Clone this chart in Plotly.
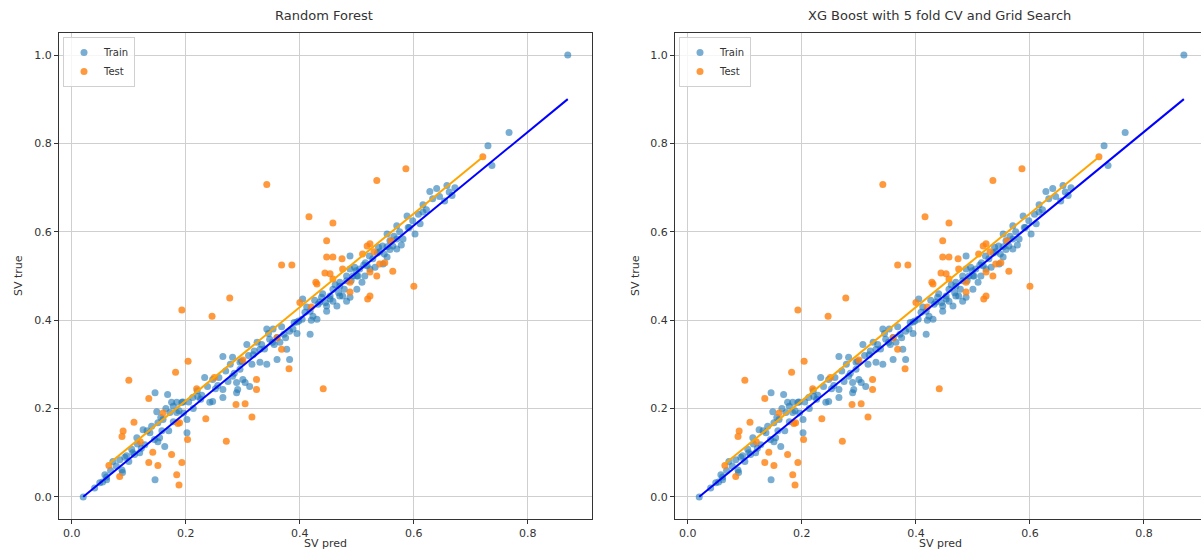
import plotly.graph_objects as go

# ---------------- data ----------------
train_pred = [0.020, 0.049, 0.054, 0.061, 0.061, 0.072, 0.084, 0.088, 0.089, 0.096,
              0.107, 0.119, 0.114, 0.125, 0.137, 0.151, 0.151, 0.154, 0.163, 0.146,
              0.160, 0.149, 0.172, 0.184, 0.175, 0.184, 0.193, 0.146, 0.168, 0.202,
              0.202, 0.233, 0.247, 0.265, 0.247, 0.265, 0.242, 0.274, 0.289, 0.300,
              0.312, 0.289, 0.291, 0.304, 0.265, 0.282, 0.298, 0.295, 0.282, 0.307,
              0.316, 0.330, 0.330, 0.333, 0.342, 0.353, 0.347, 0.360, 0.365, 0.377,
              0.382, 0.360, 0.342, 0.382, 0.388, 0.404, 0.423, 0.409, 0.418, 0.418,
              0.405, 0.430, 0.435, 0.447, 0.447, 0.458, 0.453, 0.465, 0.470, 0.475,
              0.482, 0.488, 0.470, 0.482, 0.493, 0.500, 0.509, 0.514, 0.505, 0.458,
              0.453, 0.470, 0.482, 0.500, 0.488, 0.488, 0.518, 0.523, 0.528, 0.540,
              0.546, 0.553, 0.553, 0.563, 0.570, 0.558, 0.570, 0.581, 0.553, 0.575,
              0.570, 0.588, 0.602, 0.611, 0.616, 0.616, 0.633, 0.640, 0.628, 0.654,
              0.658, 0.667, 0.730, 0.767, 0.737, 0.870,
              0.128, 0.178, 0.213, 0.221, 0.256, 0.318, 0.372, 0.398, 0.432, 0.512,
              0.536, 0.592, 0.545, 0.499, 0.438, 0.395, 0.352, 0.226, 0.196, 0.110,
              0.040, 0.058, 0.068, 0.078, 0.093, 0.100, 0.105, 0.115, 0.122,
              0.132, 0.140, 0.145, 0.156, 0.165, 0.178, 0.188, 0.195, 0.170, 0.158,
              0.205, 0.212, 0.220, 0.228, 0.238, 0.252, 0.258, 0.270, 0.278, 0.285, 0.295,
              0.310, 0.320, 0.325, 0.338, 0.345, 0.355, 0.368, 0.375, 0.390, 0.395,
              0.412, 0.420, 0.426, 0.440, 0.445, 0.462, 0.468, 0.478, 0.490, 0.496,
              0.502, 0.515, 0.522, 0.532, 0.538, 0.548, 0.558, 0.565, 0.578, 0.590, 0.598,
              0.608, 0.622, 0.645, 0.662, 0.672]
train_true = [0.000, 0.032, 0.034, 0.039, 0.045, 0.080, 0.084, 0.061, 0.055, 0.093,
              0.100, 0.100, 0.134, 0.152, 0.145, 0.168, 0.125, 0.134, 0.114, 0.039,
              0.175, 0.193, 0.191, 0.191, 0.214, 0.214, 0.214, 0.236, 0.232, 0.175,
              0.145, 0.270, 0.266, 0.243, 0.216, 0.225, 0.214, 0.261, 0.259, 0.266,
              0.250, 0.236, 0.243, 0.259, 0.318, 0.316, 0.307, 0.289, 0.273, 0.345,
              0.300, 0.305, 0.334, 0.345, 0.380, 0.380, 0.357, 0.361, 0.350, 0.334,
              0.311, 0.311, 0.300, 0.375, 0.380, 0.402, 0.409, 0.418, 0.368, 0.420,
              0.448, 0.402, 0.441, 0.432, 0.420, 0.443, 0.448, 0.432, 0.455, 0.455,
              0.443, 0.452, 0.477, 0.489, 0.500, 0.470, 0.486, 0.500, 0.516, 0.470,
              0.455, 0.486, 0.500, 0.500, 0.516, 0.545, 0.523, 0.516, 0.539, 0.555,
              0.527, 0.543, 0.566, 0.568, 0.561, 0.580, 0.584, 0.584, 0.595, 0.600,
              0.614, 0.636, 0.595, 0.618, 0.645, 0.661, 0.675, 0.698, 0.691, 0.670,
              0.705, 0.682, 0.795, 0.825, 0.750, 1.000,
              0.118, 0.170, 0.200, 0.227, 0.252, 0.322, 0.368, 0.398, 0.436, 0.525,
              0.552, 0.610, 0.568, 0.512, 0.452, 0.396, 0.350, 0.221, 0.190, 0.096,
              0.020, 0.050, 0.060, 0.070, 0.090, 0.080, 0.108, 0.120, 0.110,
              0.150, 0.160, 0.130, 0.180, 0.200, 0.205, 0.195, 0.215, 0.150, 0.150,
              0.215, 0.225, 0.240, 0.230, 0.250, 0.245, 0.270, 0.285, 0.300, 0.280, 0.305,
              0.320, 0.330, 0.350, 0.335, 0.370, 0.345, 0.385, 0.360, 0.395, 0.370,
              0.430, 0.400, 0.445, 0.460, 0.440, 0.480, 0.462, 0.470, 0.490, 0.520,
              0.500, 0.530, 0.545, 0.520, 0.565, 0.550, 0.560, 0.590, 0.570, 0.610, 0.625,
              0.640, 0.650, 0.680, 0.690, 0.700]

test_pred = [0.342, 0.535, 0.586, 0.416, 0.458, 0.447, 0.447, 0.458, 0.474, 0.368,
             0.386, 0.444, 0.428, 0.277, 0.193, 0.246, 0.204, 0.182, 0.100, 0.219,
             0.135, 0.288, 0.304, 0.324, 0.324, 0.381, 0.368, 0.441, 0.316, 0.235,
             0.186, 0.271, 0.203, 0.109, 0.090, 0.088, 0.142, 0.175, 0.135, 0.151,
             0.193, 0.184, 0.188, 0.084, 0.065, 0.189, 0.458, 0.488, 0.519, 0.518,
             0.523, 0.475, 0.540, 0.563, 0.430, 0.523, 0.488, 0.600, 0.523, 0.721,
             0.549, 0.535, 0.453, 0.400, 0.420, 0.360, 0.300, 0.560, 0.510, 0.530,
             0.250, 0.160, 0.120]
test_true = [0.707, 0.716, 0.743, 0.634, 0.620, 0.580, 0.543, 0.543, 0.539, 0.525,
             0.525, 0.507, 0.486, 0.450, 0.423, 0.409, 0.307, 0.282, 0.264, 0.245,
             0.223, 0.209, 0.211, 0.266, 0.243, 0.290, 0.334, 0.245, 0.181, 0.177,
             0.166, 0.126, 0.130, 0.169, 0.149, 0.137, 0.101, 0.096, 0.078, 0.071,
             0.078, 0.050, 0.027, 0.046, 0.071, 0.168, 0.493, 0.464, 0.448, 0.568,
             0.573, 0.516, 0.527, 0.511, 0.482, 0.509, 0.486, 0.477, 0.455, 0.770,
             0.530, 0.500, 0.505, 0.440, 0.430, 0.360, 0.310, 0.580, 0.550, 0.555,
             0.270, 0.190, 0.125]

# fitted lines: [slope, intercept]
train_fit = [1.059, -0.021]
test_fit = [1.059, 0.006]

panel_titles = ["Random Forest", "XG Boost with 5 fold CV and Grid Search"]
x_ticks = [0.0, 0.2, 0.4, 0.6, 0.8]
y_ticks = [0.0, 0.2, 0.4, 0.6, 0.8, 1.0]

# ---------------- figure ----------------
W, H = 1201, 551
FONT = "DejaVu Sans"
TXT = "#333333"
TRAIN_C = "rgba(31,119,180,0.6)"
TEST_C = "rgba(255,127,14,0.8)"

fig = go.Figure()


def fit_line(xs, fit):
    lo, hi = min(xs), max(xs)
    return [lo, hi], [fit[0] * lo + fit[1], fit[0] * hi + fit[1]]


for i in range(2):
    xa = "x" if i == 0 else "x2"
    ya = "y" if i == 0 else "y2"
    lg = "legend" if i == 0 else "legend2"
    fig.add_trace(go.Scatter(x=train_pred, y=train_true, mode="markers", name="Train",
                             marker=dict(color=TRAIN_C, size=7, line=dict(width=0)),
                             xaxis=xa, yaxis=ya, legend=lg))
    fig.add_trace(go.Scatter(x=test_pred, y=test_true, mode="markers", name="Test",
                             marker=dict(color=TEST_C, size=7, line=dict(width=0)),
                             xaxis=xa, yaxis=ya, legend=lg))
    lx, ly = fit_line(test_pred, test_fit)
    fig.add_trace(go.Scatter(x=lx, y=ly, mode="lines", line=dict(color="#FFA500", width=2),
                             showlegend=False, xaxis=xa, yaxis=ya))
    lx, ly = fit_line(train_pred, train_fit)
    fig.add_trace(go.Scatter(x=lx, y=ly, mode="lines", line=dict(color="#0000FF", width=2),
                             showlegend=False, xaxis=xa, yaxis=ya))

ydom = [(H - 519) / H, (H - 33) / H]
common_x = dict(tickvals=x_ticks, tickformat=".1f", showgrid=True, gridcolor="#cfcfcf",
                gridwidth=1, zeroline=False, showline=True, linecolor="#333333", linewidth=1,
                ticks="outside", ticklen=4, tickcolor="#333333",
                tickfont=dict(family=FONT, size=11, color=TXT))
common_y = dict(tickvals=y_ticks, tickformat=".1f", showgrid=True, gridcolor="#cfcfcf",
                gridwidth=1, zeroline=False, showline=True, linecolor="#333333", linewidth=1,
                ticks="outside", ticklen=4, tickcolor="#333333", range=[-0.05, 1.05],
                domain=ydom, tickfont=dict(family=FONT, size=11, color=TXT))

leg_common = dict(xanchor="left", yanchor="top", bgcolor="rgba(255,255,255,0.8)",
                  bordercolor="#d0d0d0", borderwidth=1, tracegroupgap=0,
                  font=dict(family=FONT, size=10, color=TXT), itemsizing="trace")

fig.update_layout(
    width=W, height=H, margin=dict(l=0, r=0, t=0, b=0),
    paper_bgcolor="white", plot_bgcolor="white",
    font=dict(family=FONT, size=11, color=TXT),
    xaxis=dict(common_x, domain=[59 / W, 592 / W], range=[-0.0225, 0.9125], mirror=True,
               anchor="y"),
    yaxis=dict(common_y, mirror=True, anchor="x"),
    xaxis2=dict(common_x, domain=[675 / W, 1.0], range=[-0.0225, 0.9], mirror=True,
                anchor="y2"),
    yaxis2=dict(common_y, mirror=False, anchor="x2"),
    legend=dict(leg_common, x=63 / W, y=(H - 37) / H),
    legend2=dict(leg_common, x=679 / W, y=(H - 37) / H),
)

annots = []
centers = [323.5, 939.5]
ylab_x = [18, 635]
for i in range(2):
    annots.append(dict(text=panel_titles[i], x=centers[i] / W, y=(H - 15) / H,
                       xref="paper", yref="paper", showarrow=False, xanchor="center",
                       yanchor="middle", font=dict(family=FONT, size=13, color=TXT)))
    annots.append(dict(text="SV pred", x=(325 if i == 0 else 940) / W, y=(H - 543) / H,
                       xref="paper", yref="paper", showarrow=False, xanchor="center",
                       yanchor="middle", font=dict(family=FONT, size=11, color=TXT)))
    annots.append(dict(text="SV true", x=ylab_x[i] / W, y=(H - 276) / H, textangle=-90,
                       xref="paper", yref="paper", showarrow=False, xanchor="center",
                       yanchor="middle", font=dict(family=FONT, size=11, color=TXT)))
fig.update_layout(annotations=annots)

fig.write_html("out.html")
